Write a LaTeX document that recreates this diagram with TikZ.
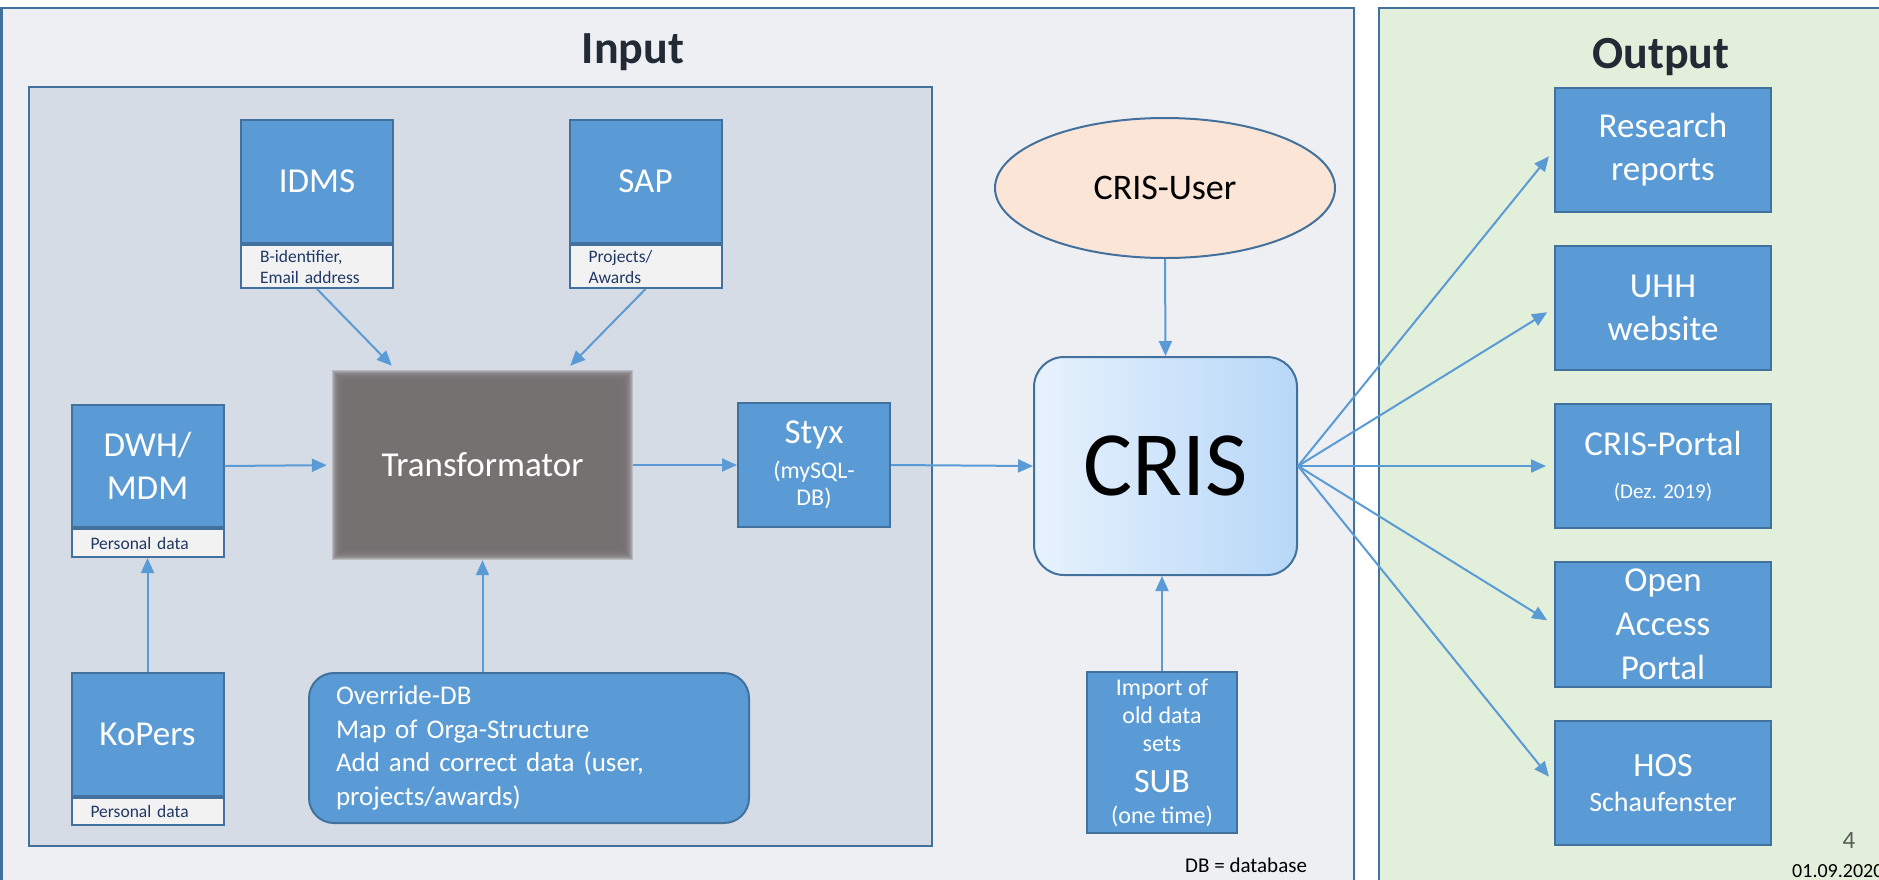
\documentclass[tikz,border=0pt]{standalone}
\usepackage{fontspec}
\setmainfont{Carlito}
\usetikzlibrary{positioning,arrows.meta,shapes.geometric}
\definecolor{frame}{RGB}{65,113,156}
\definecolor{panelgray}{RGB}{237,239,243}
\definecolor{innergray}{RGB}{214,220,229}
\definecolor{panelgreen}{RGB}{226,239,218}
\definecolor{boxblue}{RGB}{91,155,213}
\definecolor{tagfill}{RGB}{242,242,242}
\definecolor{tagtext}{RGB}{32,56,100}
\definecolor{transgray}{RGB}{118,113,113}
\definecolor{userfill}{RGB}{251,229,214}
\definecolor{headtext}{RGB}{34,42,53}
\definecolor{crisleft}{RGB}{231,242,253}
\definecolor{crisright}{RGB}{183,215,248}
\definecolor{pagegray}{RGB}{89,89,89}
\tikzset{
  srcbox/.style={draw=frame, fill=boxblue, line width=2pt, text=white, align=center, inner sep=0pt,
    minimum width=152pt, minimum height=123pt, font=\fontsize{35}{43}\selectfont},
  tag/.style={draw=frame, fill=tagfill, line width=2pt, text=tagtext, align=left, inner sep=0pt,
    text width=114pt, minimum width=152pt, font=\fontsize{17.5}{21}\selectfont},
  outbox/.style={srcbox, minimum width=216pt, minimum height=124pt},
  panel/.style={draw=frame, line width=2.5pt},
  flow/.style={draw=boxblue, line width=2pt, -{Triangle[length=15pt,width=13pt]}}
}
\begin{document}
\begin{tikzpicture}[x=1pt,y=-1pt]
    \useasboundingbox (0,0) rectangle (1879,879);
    \clip (0,0) rectangle (1879,879);
    \fill[white] (0,0) rectangle (1879,879);
    \draw[panel, fill=panelgray] (1.5,8) rectangle (1354,900);
    \draw[panel, fill=panelgreen] (1379,8) rectangle (1900,900);
    \draw[panel, fill=innergray] (29,87) rectangle (932,846);
    \node[anchor=base, inner sep=0pt, text=headtext, font=\bfseries\fontsize{46}{50}\selectfont] (intitle) at (633,63) {Input};
    \node[anchor=base, inner sep=0pt, text=headtext, font=\bfseries\fontsize{46}{50}\selectfont] (outtitle) at (1661,68) {Output};
    % sources
    \node[srcbox] (idms) at (317,181.5) {IDMS};
    \node[tag, minimum height=43pt, below=0pt of idms] (idmstag) {B-identifier,\\Email address};
    \node[srcbox] (sap) at (645.5,181.5) {SAP};
    \node[tag, minimum height=43pt, below=0pt of sap] (saptag) {Projects/\\Awards};
    \node[srcbox, minimum height=122pt] (dwh) at (147.5,466) {DWH/\\MDM};
    \node[tag, minimum height=28pt, below=0pt of dwh] (dwhtag) {Personal data};
    \node[srcbox] (kop) at (147.5,734.5) {KoPers};
    \node[tag, minimum height=27pt, below=0pt of kop] (koptag) {Personal data};
    \node[srcbox, rounded corners=25pt, align=left, text width=386pt, minimum width=440pt, minimum height=150pt,
      font=\fontsize{27}{33.5}\selectfont] (ovr) at (529,748)
      {Override-DB\\Map of Orga-Structure\\Add and correct data (user,\\projects/awards)};
    % transformator with soft edge
    \foreach \d in {-5,...,5}
      \fill[transgray, opacity=.3] ({337-\d},{375-\d}) rectangle ({628+\d},{555+\d});
    \node[fill=transgray, text=white, inner sep=0pt, minimum width=279pt, minimum height=168pt,
      font=\fontsize{35}{43}\selectfont] (trans) at (482.5,465) {Transformator};
    \node[srcbox, minimum height=124pt, font=\fontsize{24}{27}\selectfont] (styx) at (814,465)
      {{\fontsize{35}{43}\selectfont Styx}\\[8pt](mySQL-\\DB)};
    % CRIS
    \node[ellipse, draw=frame, fill=userfill, line width=2pt, inner sep=0pt, minimum width=340pt, minimum height=140pt,
      font=\fontsize{36}{40}\selectfont] (user) at (1165,188) {CRIS-User};
    \node[draw=frame, line width=2pt, rounded corners=30pt, left color=crisleft, right color=crisright, inner sep=0pt,
      minimum width=263pt, minimum height=218pt, font=\fontsize{92}{92}\selectfont] (cris) at (1165.5,466) {CRIS};
    \node[srcbox, minimum width=150pt, minimum height=161pt, font=\fontsize{24}{28}\selectfont] (imp) at (1162,752.5)
      {Import of\\old data\\sets\\[13pt]{\fontsize{34}{36}\selectfont SUB}\\[3pt](one time)};
    \node[anchor=base west, inner sep=0pt, font=\fontsize{21}{25}\selectfont] (dbnote) at (1185,872) {DB = database};
    % outputs
    \node[outbox] (rr) at (1663,150) {Research\\reports};
    \node[outbox] (uhh) at (1663,308) {UHH\\website};
    \node[outbox] (portal) at (1663,466) {CRIS-Portal\\{\fontsize{21}{25}\selectfont (Dez. 2019)}};
    \node[outbox, minimum height=125pt, font=\fontsize{35}{44}\selectfont] (oap) at (1663,624.5) {Open\\Access\\Portal};
    \node[outbox, font=\fontsize{34}{35}\selectfont] (hos) at (1663,783) {HOS\\{\fontsize{28}{30}\selectfont Schaufenster}};
    \node[anchor=base, inner sep=0pt, text=pagegray, font=\fontsize{25}{25}\selectfont] (pagenum) at (1849,848) {4};
    \node[anchor=base west, inner sep=0pt, font=\fontsize{20}{20}\selectfont] (date) at (1792,877) {01.09.2020};
    % connectors
    \coordinate (tin1) at ([xshift=49pt,yshift=15pt]trans.north west);
    \coordinate (tin2) at ([xshift=-52pt,yshift=15pt]trans.north east);
    \draw[flow] (idmstag.south) -- (tin1);
    \draw[flow] (saptag.south) -- (tin2);
    \draw[flow, shorten >=16pt] (dwh.east) -- (trans.west);
    \draw[flow] (kop.north) -- (dwhtag.south);
    \draw[flow, shorten >=11pt] (trans.south |- ovr.north) -- (trans.south);
    \draw[flow, shorten <=11pt] (trans.east) -- (styx.west);
    \draw[flow] (styx.east) -- (cris.west);
    \draw[flow] (user.south) -- (cris.north);
    \draw[flow] (imp.north) -- (imp.north |- cris.south);
    \foreach \o in {rr,uhh,portal,oap,hos}
      \draw[flow, shorten >=8pt] (cris.east) -- (\o.west);
\end{tikzpicture}
\end{document}
